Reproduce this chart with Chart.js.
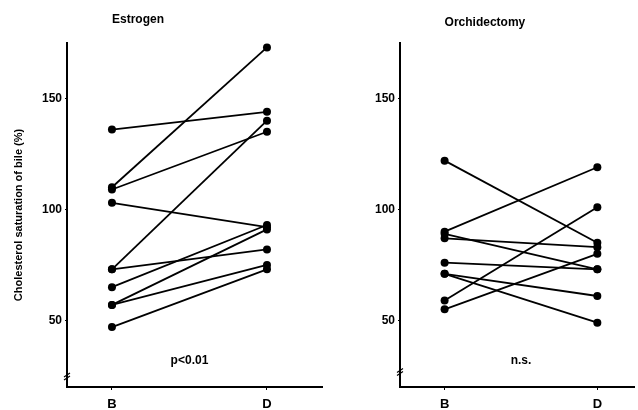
<!DOCTYPE html>
<html>
<head>
<meta charset="utf-8">
<script src="https://cdn.jsdelivr.net/npm/chart.js@4.4.1/dist/chart.umd.min.js"></script>
<style>
  html, body { margin: 0; padding: 0; background: #fff; }
  .panel { position: absolute; top: 0; height: 410px; }
  #left-panel { left: 0; width: 330px; }
  #right-panel { left: 330px; width: 308px; }
</style>
</head>
<body>
<div class="panel" id="left-panel"><canvas id="estrogen-chart"></canvas></div>
<div class="panel" id="right-panel"><canvas id="orchidectomy-chart"></canvas></div>
<script>
// Données (saturation en cholestérol de la bile, %)
const xLabels = ['B', 'D'];
const yTicks = [50, 100, 150];

const estrogenBefore = [136, 110, 109, 103, 73, 73, 65, 57, 57, 47];
const estrogenAfter  = [144, 173, 135, 92, 140, 82, 93, 91, 75, 73];

const orchBefore = [122, 90, 89, 87, 76, 71, 71, 59, 55];
const orchAfter  = [85, 119, 73, 83, 73, 61, 49, 101, 80];

const FONT = '"Liberation Sans", Arial, sans-serif';

/**
 * Construit un dataset par patient (B -> D)
 */
function buildPairs(before, after) {
    return before.map(function(b, i) {
        return {
            data: [{ x: 0, y: b }, { x: 1, y: after[i] }],
            borderColor: '#000',
            backgroundColor: '#000',
            borderWidth: 1.8,
            pointRadius: 4,
            pointBorderWidth: 0,
            showLine: true
        };
    });
}

// Titre, annotation et coupure d'axe
const decorPlugin = {
    id: 'decor',
    afterDraw: function(chart, args, opts) {
        const ctx = chart.ctx;
        const xs = chart.scales.x;
        const ys = chart.scales.y;
        ctx.save();
        ctx.fillStyle = '#000';

        // titre aligné sur B
        ctx.font = 'bold 12px ' + FONT;
        ctx.textAlign = 'left';
        ctx.textBaseline = 'alphabetic';
        ctx.fillText(opts.title, xs.getPixelForValue(0), opts.titleY);

        // annotation statistique
        ctx.textAlign = 'center';
        ctx.textBaseline = 'middle';
        ctx.fillText(opts.note, xs.getPixelForValue(0.5), ys.getPixelForValue(32));

        // coupure de l'axe Y
        const bx = chart.chartArea.left;
        const by = ys.getPixelForValue(opts.breakAt);
        ctx.strokeStyle = '#000';
        ctx.lineWidth = 1.2;
        ctx.beginPath();
        ctx.moveTo(bx - 3, by + 1);
        ctx.lineTo(bx + 3, by - 3);
        ctx.moveTo(bx - 3, by + 4);
        ctx.lineTo(bx + 3, by);
        ctx.stroke();
        ctx.restore();
    }
};

function makeChart(canvasId, before, after, cfg) {
    const ctx = document.getElementById(canvasId).getContext('2d');
    return new Chart(ctx, {
        type: 'scatter',
        data: { datasets: buildPairs(before, after) },
        plugins: [decorPlugin],
        options: {
            responsive: true,
            maintainAspectRatio: false,
            animation: false,
            layout: { padding: { top: 43, right: cfg.padRight, left: 0, bottom: 0 } },
            plugins: {
                legend: { display: false },
                tooltip: { enabled: false },
                decor: { title: cfg.title, titleY: cfg.titleY, note: cfg.note, breakAt: cfg.breakAt }
            },
            scales: {
                x: {
                    type: 'linear',
                    min: cfg.xMin,
                    max: cfg.xMax,
                    afterBuildTicks: function(scale) {
                        scale.ticks = xLabels.map(function(_, i) { return { value: i }; });
                    },
                    afterFit: function(scale) { scale.height = 23; },
                    grid: { display: true, drawOnChartArea: false, drawTicks: true, tickLength: 3, color: '#000', lineWidth: 1 },
                    border: { display: true, color: '#000', width: 2 },
                    ticks: {
                        color: '#000',
                        padding: 7,
                        font: { family: FONT, size: 13, weight: 'bold' },
                        callback: function(v) { return xLabels[v]; }
                    }
                },
                y: {
                    min: 20,
                    max: 175,
                    afterBuildTicks: function(scale) {
                        scale.ticks = yTicks.map(function(v) { return { value: v }; });
                    },
                    afterFit: function(scale) { scale.width = cfg.yWidth; },
                    grid: { display: true, drawOnChartArea: false, drawTicks: true, tickLength: 2, color: '#000', lineWidth: 1 },
                    border: { display: true, color: '#000', width: 2 },
                    ticks: {
                        color: '#000',
                        padding: 3,
                        font: { family: FONT, size: 12, weight: 'bold' }
                    },
                    title: {
                        display: cfg.yTitle !== '',
                        text: cfg.yTitle,
                        color: '#000',
                        padding: { top: 12, bottom: 0 },
                        font: { family: FONT, size: 11, weight: 'bold' }
                    }
                }
            }
        }
    });
}

makeChart('estrogen-chart', estrogenBefore, estrogenAfter, {
    title: 'Estrogen', titleY: 23, note: 'p<0.01', breakAt: 25,
    xMin: -0.29, xMax: 1.355, yWidth: 67, padRight: 8,
    yTitle: 'Cholesterol saturation of bile (%)'
});

makeChart('orchidectomy-chart', orchBefore, orchAfter, {
    title: 'Orchidectomy', titleY: 26, note: 'n.s.', breakAt: 27,
    xMin: -0.292, xMax: 1.24, yWidth: 70, padRight: 2,
    yTitle: ''
});
</script>
</body>
</html>
